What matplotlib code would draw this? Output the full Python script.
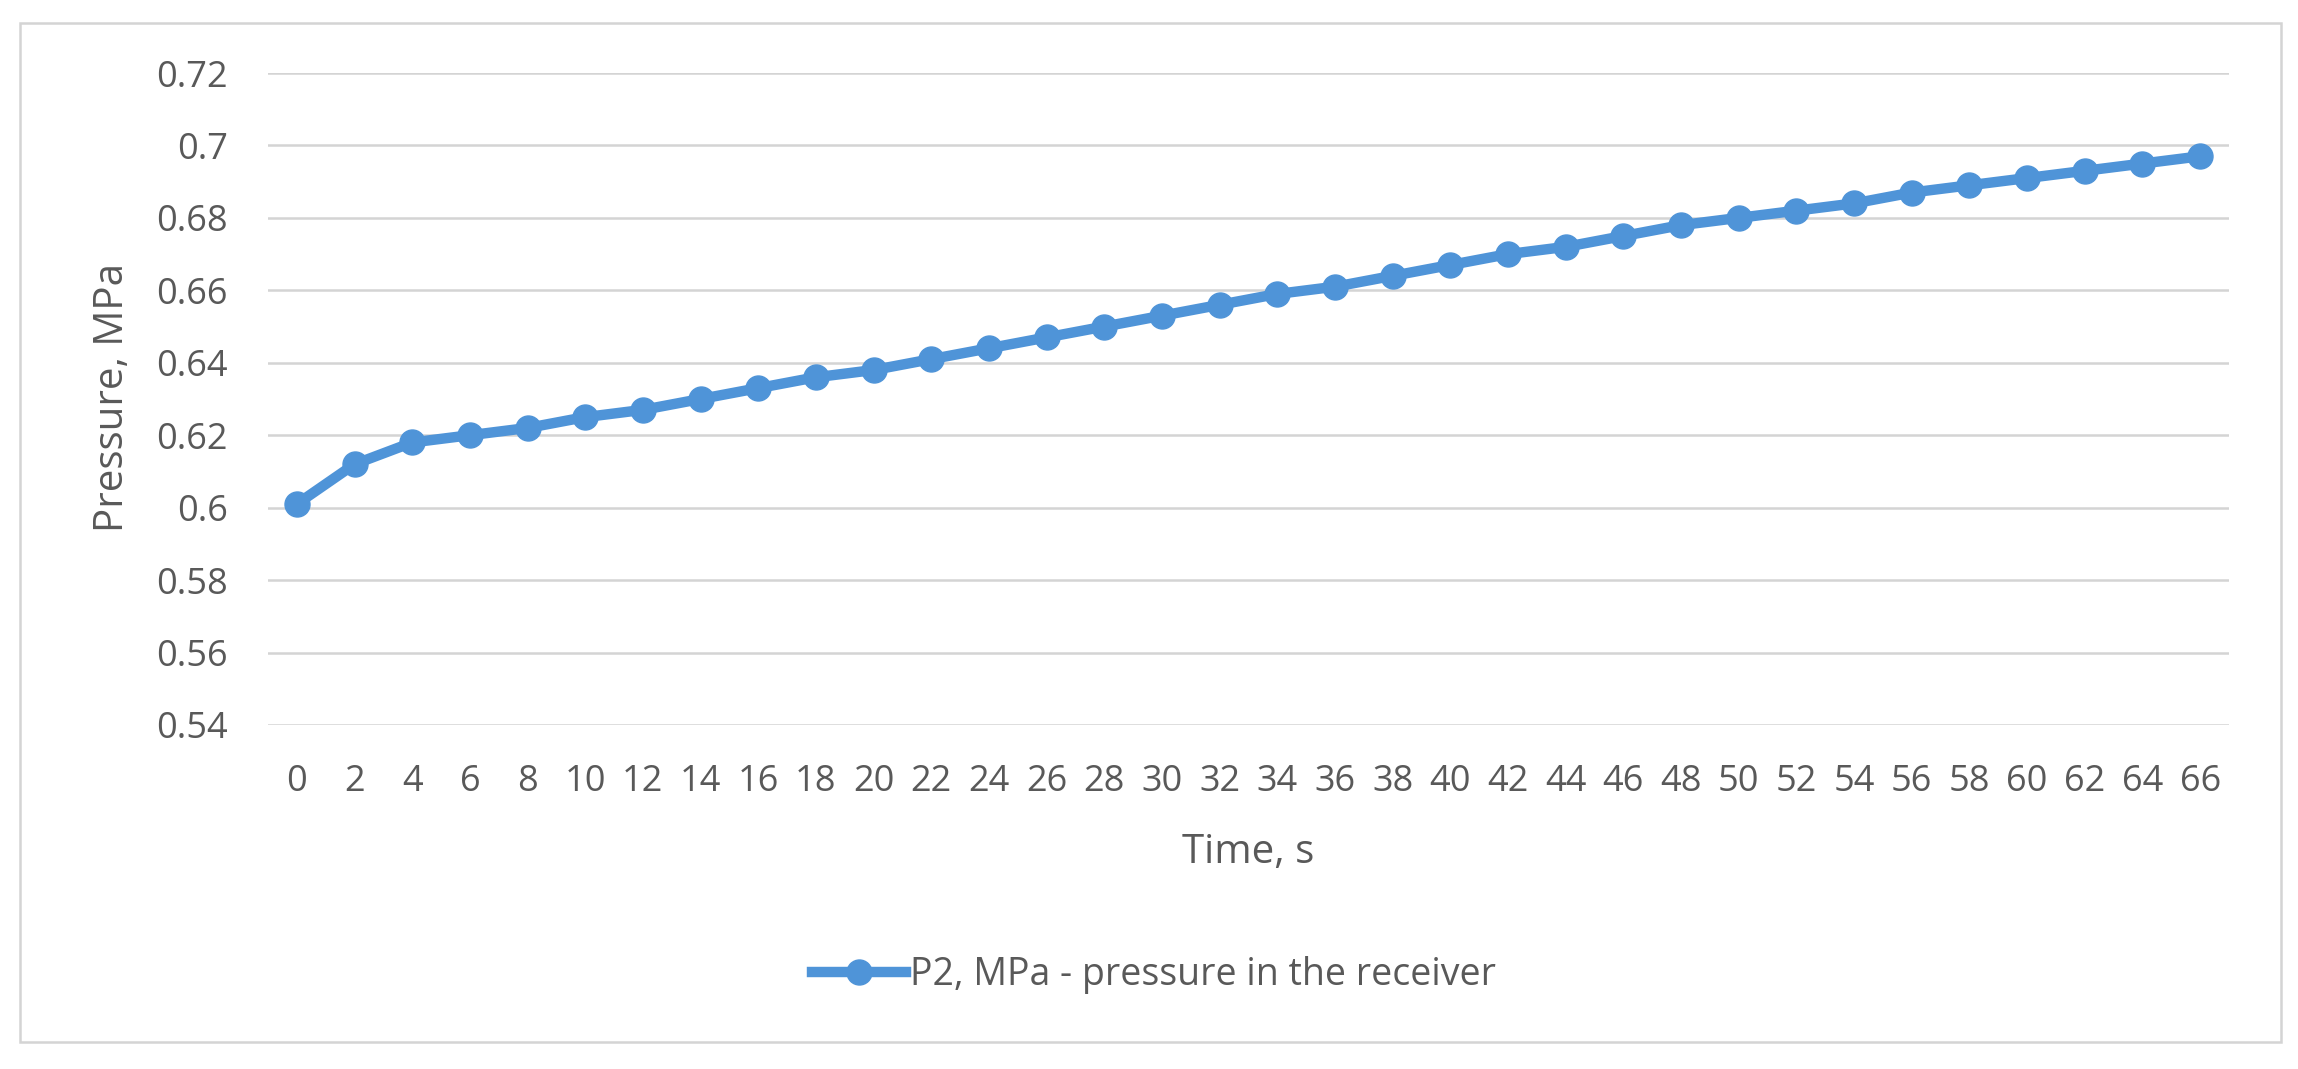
import numpy as np
import matplotlib
matplotlib.use("Agg")
import matplotlib.pyplot as plt
from matplotlib.patches import Rectangle

plt.rcParams['font.family'] = ['Open Sans', 'DejaVu Sans']

# data
time_s = [0, 2, 4, 6, 8, 10, 12, 14, 16, 18, 20, 22, 24, 26, 28, 30, 32,
          34, 36, 38, 40, 42, 44, 46, 48, 50, 52, 54, 56, 58, 60, 62, 64, 66]
p2_mpa = [0.601, 0.612, 0.618, 0.620, 0.622, 0.625, 0.627, 0.630, 0.633,
          0.636, 0.638, 0.641, 0.644, 0.647, 0.650, 0.653, 0.656, 0.659,
          0.661, 0.664, 0.667, 0.670, 0.672, 0.675, 0.678, 0.680, 0.682,
          0.684, 0.687, 0.689, 0.691, 0.693, 0.695, 0.697]
y_ticks = [0.54, 0.56, 0.58, 0.60, 0.62, 0.64, 0.66, 0.68, 0.70, 0.72]
y_tick_labels = ['0.54', '0.56', '0.58', '0.6', '0.62', '0.64', '0.66',
                 '0.68', '0.7', '0.72']
series_label = 'P2, MPa - pressure in the receiver'

W, H = 2298, 1069
text_col = '#595959'
grid_col = '#d4d4d4'
line_col = '#4f94d8'

fig = plt.figure(figsize=(W / 100, H / 100), dpi=100)
fig.patch.set_facecolor('white')

# chart area border
fig.patches.append(Rectangle((20 / W, 1 - 1042 / H), (2281 - 20) / W, (1042 - 23) / H,
                             transform=fig.transFigure, fill=False,
                             edgecolor=grid_col, linewidth=1.8))

ax = fig.add_axes([268 / W, 1 - 725 / H, (2229 - 268) / W, (725 - 73) / H])
idx = np.arange(len(time_s))
ax.plot(idx, p2_mpa, color=line_col, linewidth=7.5, marker='o',
        markersize=18, label=series_label, zorder=3)

ax.set_xlim(-0.5, len(time_s) - 0.5)
ax.set_ylim(y_ticks[0], y_ticks[-1])
ax.set_xticks(idx)
ax.set_xticklabels([str(t) for t in time_s])
ax.set_yticks(y_ticks)
ax.set_yticklabels(y_tick_labels)
ax.tick_params(axis='both', length=0, labelsize=26, colors=text_col)
ax.tick_params(axis='y', pad=29)
ax.tick_params(axis='x', pad=28)
ax.grid(axis='y', color=grid_col, linewidth=1.8)
ax.set_axisbelow(True)
for s in ax.spines.values():
    s.set_visible(False)

fig.text(1248 / W, 1 - 863 / H, 'Time, s', ha='center', va='baseline',
         fontsize=29, color=text_col)
fig.text(123 / W, 1 - 398 / H, 'Pressure, MPa', rotation=90,
         rotation_mode='anchor', ha='center', va='baseline',
         fontsize=29, color=text_col)

leg = fig.legend(loc='center', bbox_to_anchor=(1154 / W, 1 - 975 / H),
                 frameon=False, fontsize=27, handlelength=2.5,
                 handletextpad=0.12, labelcolor=text_col)

fig.savefig('out.png', dpi=100, facecolor='white')
